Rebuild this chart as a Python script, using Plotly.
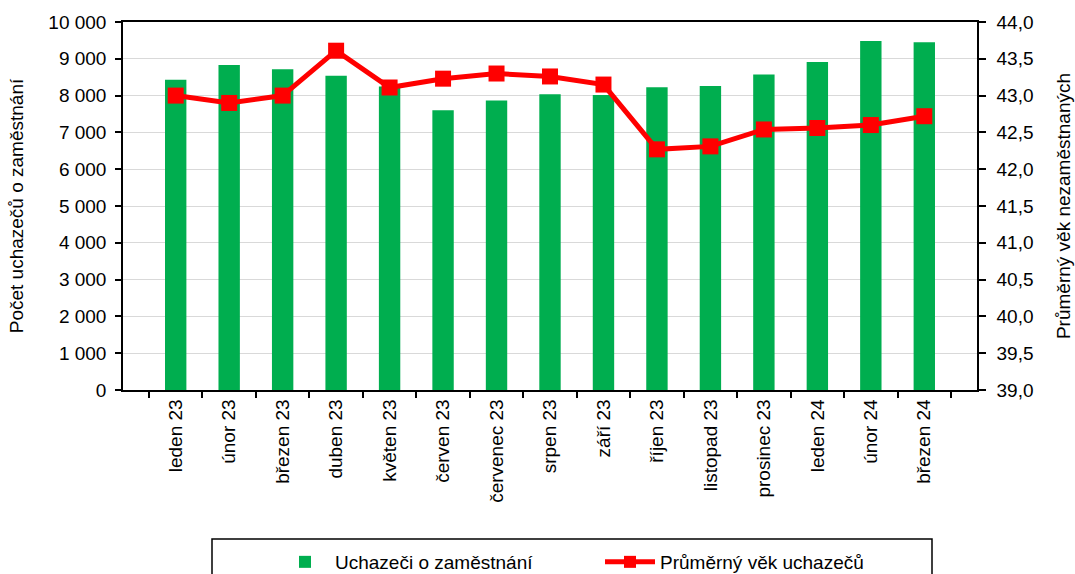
import plotly.graph_objects as go

months = ["leden 23", "únor 23", "březen 23", "duben 23", "květen 23", "červen 23",
          "červenec 23", "srpen 23", "září 23", "říjen 23", "listopad 23", "prosinec 23",
          "leden 24", "únor 24", "březen 24"]
uchazeci = [8430, 8830, 8715, 8540, 8250, 7600, 7870, 8040, 8015, 8225, 8260, 8570,
            8910, 9485, 9450]
prumerny_vek = [43.00, 42.90, 43.00, 43.61, 43.11, 43.23, 43.30, 43.26, 43.15, 42.27,
                42.31, 42.54, 42.56, 42.60, 42.72]

font = "Liberation Sans, Arial, sans-serif"
FS = 19

L, R, T, B = 123, 98, 22, 184
W, H = 1075, 574
PW, PH = W - L - R, H - T - B


def px_x(x):
    return (x - L) / PW


def px_y(y):
    return (H - B - y) / PH


fig = go.Figure()
fig.add_trace(go.Bar(x=months, y=uchazeci, name="Uchazeči o zaměstnání",
                     marker=dict(color="#00AE4F", line=dict(width=0))))
fig.add_trace(go.Scatter(x=months, y=prumerny_vek, name="Průměrný věk uchazečů",
                         yaxis="y2", mode="lines+markers",
                         line=dict(color="#FF0000", width=5),
                         marker=dict(symbol="square", size=16, color="#FF0000")))

fig.update_layout(
    width=W, height=H,
    margin=dict(l=L, r=R, t=T, b=B, autoexpand=False),
    paper_bgcolor="white", plot_bgcolor="white",
    font=dict(family=font, size=FS, color="#000000"),
    separators=", ",
    bargap=0.6,
    showlegend=True,
    legend=dict(orientation="h", x=px_x(275), y=px_y(543), xanchor="left", yanchor="top",
                font=dict(family=font, size=FS, color="#000000"),
                itemwidth=50, entrywidth=260, itemsizing="constant",
                bgcolor="rgba(0,0,0,0)", borderwidth=0, traceorder="normal"),
    xaxis=dict(showline=True, linecolor="#000000", linewidth=1.5, mirror=True,
               ticks="outside", ticklen=6, tickcolor="#000000", tickwidth=1.5,
               tickson="boundaries", tickangle=-90, tickfont=dict(size=FS),
               showgrid=False, automargin=False),
    yaxis=dict(range=[0, 10000], dtick=1000, tickformat=",d",
               showline=True, linecolor="#000000", linewidth=1.5,
               ticks="outside", ticklen=6, tickcolor="#000000", tickwidth=1.5,
               ticklabelstandoff=5, tickfont=dict(size=FS),
               showgrid=True, gridcolor="#D9D9D9", gridwidth=1,
               title=dict(text="Počet uchazečů o zaměstnání", font=dict(size=FS), standoff=20),
               zeroline=False, automargin=False),
    yaxis2=dict(range=[39, 44], dtick=0.5, tickformat=".1f", overlaying="y", side="right",
                showline=True, linecolor="#000000", linewidth=1.5,
                ticks="outside", ticklen=7, tickcolor="#000000", tickwidth=1.5,
                ticklabelstandoff=7, tickfont=dict(size=FS), showgrid=False,
                title=dict(text="Průměrný věk nezaměstnaných", font=dict(size=FS), standoff=24),
                zeroline=False, automargin=False),
    shapes=[dict(type="rect", xref="paper", yref="paper",
                 x0=px_x(212), x1=px_x(932), y0=px_y(600), y1=px_y(539),
                 line=dict(color="#000000", width=1.5), fillcolor="rgba(0,0,0,0)")],
)

fig.write_html("out.html", config={"displayModeBar": False},
               post_script="document.body.style.margin='0';document.body.style.overflow='hidden';")
